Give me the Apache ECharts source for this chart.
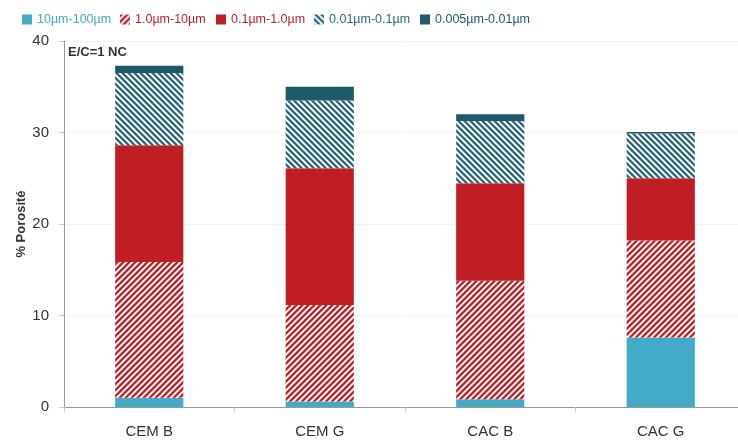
<!DOCTYPE html>
<html>
<head>
<meta charset="utf-8">
<script src="https://cdn.jsdelivr.net/npm/echarts@6/dist/echarts.min.js"></script>
<style>html,body{margin:0;padding:0;background:#fff}#c{width:738px;height:441px}</style>
</head>
<body>
<div id="c"></div>
<script>
var categories = ['CEM B', 'CEM G', 'CAC B', 'CAC G'];
var seriesNames = ['10µm-100µm', '1.0µm-10µm', '0.1µm-1.0µm', '0.01µm-0.1µm', '0.005µm-0.01µm'];
var s10_100 = [1.0, 0.6, 0.85, 7.6];
var s1_10 = [14.85, 10.55, 12.95, 10.6];
var s01_1 = [12.75, 14.95, 10.65, 6.8];
var s001_01 = [7.9, 7.4, 6.8, 4.9];
var s0005_001 = [0.8, 1.5, 0.75, 0.15];
var yTicks = [0, 10, 20, 30, 40];

var BLUE = '#43aac8', RED = '#be1e24', TEAL = '#2a6678', DARK = '#1f5a6a';

function stripe(color, dir, period, width) {
  var s = period, c = document.createElement('canvas');
  c.width = s; c.height = s;
  var ctx = c.getContext('2d');
  var img = ctx.createImageData(s, s);
  var rgb = [parseInt(color.substr(1,2),16), parseInt(color.substr(3,2),16), parseInt(color.substr(5,2),16)];
  var N = 4;
  for (var y = 0; y < s; y++) for (var x = 0; x < s; x++) {
    var cov = 0;
    for (var j = 0; j < N; j++) for (var i = 0; i < N; i++) {
      var px = x + (i + 0.5) / N, py = y + (j + 0.5) / N;
      var t = dir > 0 ? (px + py) : (px - py);
      t = ((t % s) + s) % s;
      if (t < width) cov++;
    }
    cov /= N * N;
    var k = (y * s + x) * 4;
    img.data[k] = Math.round(255 + (rgb[0] - 255) * cov);
    img.data[k+1] = Math.round(255 + (rgb[1] - 255) * cov);
    img.data[k+2] = Math.round(255 + (rgb[2] - 255) * cov);
    img.data[k+3] = 255;
  }
  ctx.putImageData(img, 0, 0);
  return {image: c, repeat: 'repeat'};
}
var redHatch = stripe(RED, 1, 6, 3.2);
var tealHatch = stripe(TEAL, -1, 6, 3.2);

var colors = [BLUE, redHatch, RED, tealHatch, DARK];
var textColors = [BLUE, RED, RED, TEAL, DARK];
var dataArr = [s10_100, s1_10, s01_1, s001_01, s0005_001];
var legendLeft = [22, 120, 216, 314, 420];

var chart = echarts.init(document.getElementById('c'), null, {renderer: 'canvas'});
var series = seriesNames.map(function (n, i) {
  return {
    name: n, type: 'bar', stack: 'a', barWidth: '40%',
    data: dataArr[i],
    itemStyle: {color: colors[i]},
    emphasis: {disabled: true}
  };
});
var legends = seriesNames.map(function (n, i) {
  return {
    left: legendLeft[i], top: 13, padding: 0, itemWidth: 10, itemHeight: 10,
    icon: 'rect', selectedMode: false,
    data: [{name: n, itemStyle: {color: colors[i]}, textStyle: {color: textColors[i], fontSize: 12.5}}]
  };
});
chart.setOption({
  animation: false,
  textStyle: {fontFamily: 'Liberation Sans, Arial, sans-serif'},
  legend: legends,
  grid: {left: 64, width: 682, top: 41, height: 366, containLabel: false, outerBoundsMode: 'none'},
  xAxis: {
    type: 'category', data: categories,
    axisLine: {lineStyle: {color: '#999', width: 1}},
    axisTick: {show: true, length: 5, lineStyle: {color: '#ccc'}},
    axisLabel: {color: '#333', fontSize: 15, margin: 17}
  },
  yAxis: {
    type: 'value', min: 0, max: 40, interval: 10,
    name: '% Porosité', nameLocation: 'middle', nameGap: 36, nameMoveOverlap: false,
    nameTextStyle: {fontWeight: 'bold', fontSize: 13, color: '#333'},
    axisLine: {show: true, lineStyle: {color: '#999'}},
    axisTick: {show: true, length: 5, lineStyle: {color: '#ccc'}},
    splitLine: {lineStyle: {color: '#f2f2f2'}},
    axisLabel: {color: '#333', fontSize: 15, margin: 15,
      formatter: function (v) { return yTicks.indexOf(v) >= 0 ? String(v) : ''; }}
  },
  graphic: [{type: 'text', left: 68, top: 46, style: {text: 'E/C=1 NC', font: 'bold 13px Liberation Sans, Arial, sans-serif', fill: '#333'}}],
  series: series
});
</script>
</body>
</html>
